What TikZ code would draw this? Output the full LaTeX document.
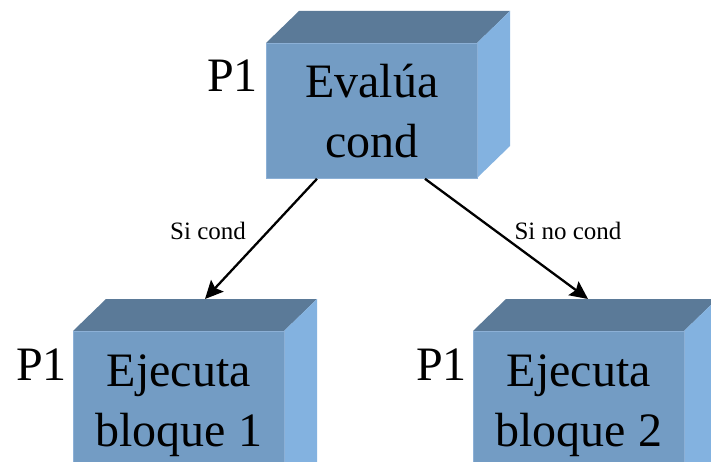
\documentclass[tikz,border=0pt]{standalone}
\usepackage{fontspec}
\setmainfont{Liberation Serif}
\usetikzlibrary{arrows.meta}
\definecolor{frontc}{RGB}{115,156,196}
\definecolor{topc}{RGB}{91,122,152}
\definecolor{sidec}{RGB}{131,178,224}
\definecolor{edgec}{RGB}{140,176,214}
\begin{document}
\begin{tikzpicture}[x=1pt,y=-1pt,
  frontface/.style={fill=frontc, draw=edgec, line width=0.8pt, minimum width=211pt,
    inner sep=0pt, anchor=north west, align=center,
    font=\fontsize{48}{60}\selectfont},
  plabel/.style={anchor=base east, inner sep=0pt, font=\fontsize{48}{60}\selectfont},
  elabel/.style={anchor=base, inner sep=0pt, font=\fontsize{25}{30}\selectfont},
  arr/.style={line width=2.3pt, -{Stealth[length=18pt,width=17pt,inset=3pt]}}]
\useasboundingbox (0,0) rectangle (711,462);
\clip (0,0) rectangle (711,462);
% top box
\fill[topc] (266,43) -- (299,11) -- (510,11) -- (477,43) -- cycle;
\fill[sidec] (477,43) -- (510,11) -- (510,146) -- (477,178) -- cycle;
\node[frontface, minimum height=135pt] (eval) at (266,43) {Evalúa\\cond};
\coordinate (evalback) at (299,11);
% bottom left box
\fill[topc] (73,331) -- (106,299) -- (317,299) -- (284,331) -- cycle;
\fill[sidec] (284,331) -- (317,299) -- (317,470) -- (284,500) -- cycle;
\node[frontface, minimum height=148pt] (b1) at (73,331) {Ejecuta\\bloque 1};
\coordinate (b1back) at (106,299);
% bottom right box
\fill[topc] (473,331) -- (506,299) -- (717,299) -- (684,331) -- cycle;
\fill[sidec] (684,331) -- (717,299) -- (717,470) -- (684,500) -- cycle;
\node[frontface, minimum height=148pt] (b2) at (473,331) {Ejecuta\\bloque 2};
\coordinate (b2back) at (506,299);
% P1 labels
\node[plabel] (p0) at (258,92) {P1};
\node[plabel] (p1) at (67,380) {P1};
\node[plabel] (p2) at (467,380) {P1};
% arrows
\draw[arr] ([xshift=51pt]eval.south west) -- ([xshift=99pt]b1back);
\draw[arr] ([xshift=159pt]eval.south west) -- ([xshift=82pt]b2back);
\node[elabel] (l1) at (208,240) {Si cond};
\node[elabel] (l2) at (568,240) {Si no cond};
\end{tikzpicture}
\end{document}
